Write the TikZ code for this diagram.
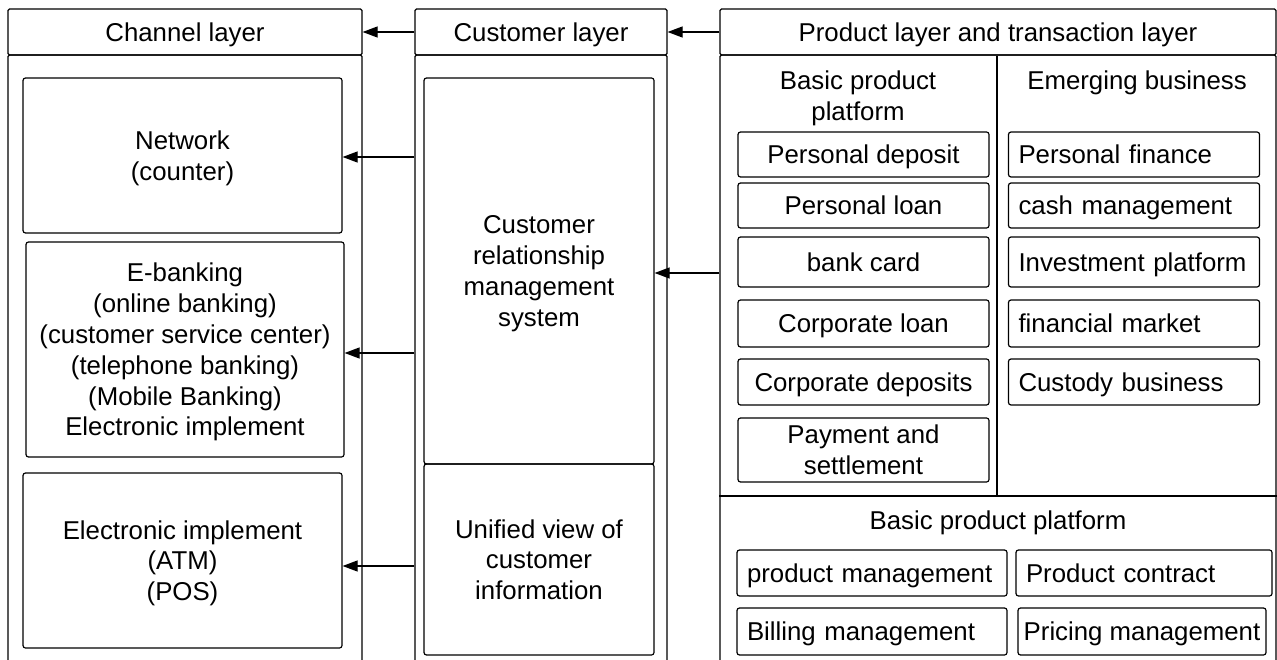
\documentclass[tikz,border=0pt]{standalone}
\usepackage{fontspec}
\setmainfont{Liberation Sans}
\usepackage{tikz}
\usetikzlibrary{arrows.meta, positioning, calc}

\begin{document}
\begin{tikzpicture}[
    x=1pt, y=-1pt,
    font=\fontsize{25.8}{30.8}\selectfont,
    frame/.style={draw, line width=1.2pt, rounded corners=1.5pt, inner sep=0pt, align=center},
    oneline/.style={text height=18.6pt, text depth=0pt},
    cell/.style={draw, line width=1.2pt, rounded corners=2.5pt, inner sep=0pt, align=center, text depth=0pt},
    leftcell/.style={cell, oneline, inner xsep=10pt, align=left, text width=#1},
    title/.style={inner sep=0pt, align=center, text depth=0pt},
    arrow/.style={-{Triangle[length=15pt,width=11pt]}, line width=1.2pt}
]
    \clip (0,0) rectangle (1277,660);

    % Layer headers
    \node[frame, oneline, minimum width=354pt, minimum height=46pt] (chanhead) at (185,32) {Channel layer};
    \node[frame, oneline, minimum width=252pt, minimum height=46pt] (cushead) at (541,32) {Customer layer};
    \node[frame, oneline, minimum width=556pt, minimum height=46pt] (prodhead) at (998,32) {Product layer and transaction layer};

    % Layer columns (run off the bottom edge)
    \node[frame, minimum width=354pt, minimum height=612pt] (chan) at (185,361) {};
    \node[frame, minimum width=252pt, minimum height=612pt] (cus) at (541,361) {};
    \node[frame, minimum width=556pt, minimum height=612pt] (prod) at (998,361) {};

    % Channel layer
    \node[cell, minimum width=319pt, minimum height=155pt] (net) at (182.5,155.5) {Network\\(counter)};
    \node[cell, minimum width=318pt, minimum height=215pt] (ebank) at (185,349.5) {E-banking\\(online banking)\\(customer service center)\\(telephone banking)\\(Mobile Banking)\\Electronic implement};
    \node[cell, minimum width=319pt, minimum height=175pt] (atm) at (182.5,560.5) {Electronic implement\\(ATM)\\(POS)};

    % Customer layer
    \node[cell, minimum width=230pt, minimum height=386pt] (crm) at (539,271) {Customer\\relationship\\management\\system};
    \node[cell, minimum width=230pt, minimum height=191pt] (unified) at (539,559.5) {Unified view of\\customer\\information};

    % Product layer: split into three parts
    \coordinate (split) at (997,496);
    \draw[line width=1.2pt] (split) -- (split |- prodhead.south);
    \draw[line width=1.2pt] (prod.west |- split) -- (prod.east |- split);

    \node[title] (basic) at (858,96) {Basic product\\platform};
    \node[title, oneline] (emerging) at (1137,80) {Emerging business};
    \node[title, oneline] (platform) at (998,520) {Basic product platform};

    % Basic products
    \node[cell, oneline, minimum width=251pt, minimum height=45pt] (pdeposit) at (863.5,154.5) {Personal deposit};
    \node[cell, oneline, minimum width=251pt, minimum height=45pt] (ploan) at (863.5,205.5) {Personal loan};
    \node[cell, oneline, minimum width=251pt, minimum height=50pt] (card) at (863.5,262) {bank card};
    \node[cell, oneline, minimum width=251pt, minimum height=47pt] (cloan) at (863.5,323.5) {Corporate loan};
    \node[cell, oneline, minimum width=251pt, minimum height=46pt] (cdeposit) at (863.5,382) {Corporate deposits};
    \node[cell, minimum width=251pt, minimum height=64pt] (payment) at (863.5,450) {Payment and\\settlement};

    % Emerging business
    \node[leftcell=231pt, minimum height=45pt] (finance) at (1134,154.5) {Personal finance};
    \node[leftcell=231pt, minimum height=45pt] (cash) at (1134,205.5) {cash management};
    \node[leftcell=231pt, minimum height=50pt] (invest) at (1134,262) {Investment platform};
    \node[leftcell=231pt, minimum height=47pt] (market) at (1134,323.5) {financial market};
    \node[leftcell=231pt, minimum height=46pt] (custody) at (1134,382) {Custody business};

    % Platform services
    \node[leftcell=250pt, minimum height=46pt] (prodmgmt) at (872,573) {product management};
    \node[leftcell=236pt, minimum height=46pt] (contract) at (1144,573) {Product contract};
    \node[leftcell=250pt, minimum height=47pt] (billing) at (872,631.5) {Billing management};
    \node[cell, oneline, minimum width=248pt, minimum height=47pt] (pricing) at (1142,631.5) {Pricing management};

    % Connections
    \draw[arrow] (cushead) -- (chanhead);
    \draw[arrow] (prodhead) -- (cushead);
    \draw[arrow] ([yshift=-1.5pt]cus.west |- net.east) -- ([yshift=-1.5pt]net.east);
    \draw[arrow] ([yshift=-3.5pt]cus.west |- ebank.east) -- ([yshift=-3.5pt]ebank.east);
    \draw[arrow] ([yshift=-5.5pt]cus.west |- atm.east) -- ([yshift=-5.5pt]atm.east);
    \draw[arrow] ([yshift=-2pt]prod.west |- crm.east) -- ([yshift=-2pt]crm.east);
\end{tikzpicture}
\end{document}
